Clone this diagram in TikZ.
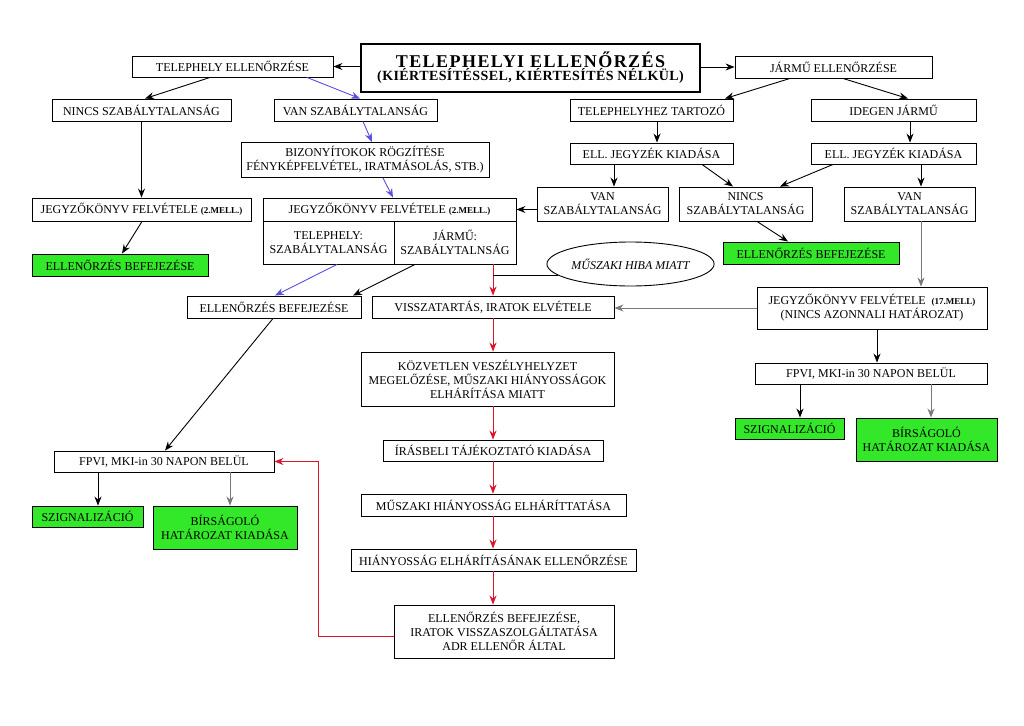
\documentclass[tikz,border=0pt]{standalone}
\usepackage{fontspec}
\setmainfont{Liberation Serif}
\usetikzlibrary{arrows.meta,calc,shapes.geometric}
\definecolor{bgreen}{RGB}{50,232,40}
\definecolor{bblue}{RGB}{90,80,225}
\definecolor{bred}{RGB}{220,20,45}
\definecolor{bgray}{RGB}{120,120,120}
\newcommand{\mell}[1]{{\fontsize{9}{10}\selectfont\bfseries #1}}
\begin{document}
\begin{tikzpicture}[x=1pt,y=-1pt,
  font=\fontsize{12}{14}\selectfont,
  box/.style={draw,line width=0.9pt,inner sep=0pt,align=center,fill=white},
  gbox/.style={box,fill=bgreen},
  arr/.style={-{Stealth[length=9pt,width=7pt,inset=3pt]},line width=0.9pt},
  blu/.style={arr,draw=bblue},
  rd/.style={arr,draw=bred},
  gr/.style={arr,draw=bgray},
  ln/.style={line width=0.9pt}]
\useasboundingbox[fill=white] (0,0) rectangle (1024,725);

% title
\node[box,line width=1.3pt,minimum width=339pt,minimum height=48pt] (title) at (530.5,68)
 {{\fontsize{18}{19}\selectfont\bfseries\addfontfeature{LetterSpace=8}TELEPHELYI ELLENŐRZÉS}\\[-1pt]
  {\fontsize{14}{15}\selectfont\bfseries\addfontfeature{LetterSpace=3}(KIÉRTESÍTÉSSEL, KIÉRTESÍTÉS NÉLKÜL)}};

% left branch
\node[box,minimum width=201pt,minimum height=21pt] (tel) at (232.5,66.5) {TELEPHELY ELLENŐRZÉSE};
\node[box,minimum width=179pt,minimum height=22pt] (nincsL) at (141.5,110) {NINCS SZABÁLYTALANSÁG};
\node[box,minimum width=163pt,minimum height=22pt] (vanL) at (355.5,110) {VAN SZABÁLYTALANSÁG};
\node[box,minimum width=248pt,minimum height=35pt] (biz) at (365,160) {BIZONYÍTOKOK RÖGZÍTÉSE\\FÉNYKÉPFELVÉTEL, IRATMÁSOLÁS, STB.)};
\node[box,minimum width=219pt,minimum height=23pt] (jkL) at (141.5,209.5) {JEGYZŐKÖNYV FELVÉTELE \mell{(2.MELL.)}};
\node[gbox,minimum width=176pt,minimum height=22pt] (befL) at (120,265) {ELLENŐRZÉS BEFEJEZÉSE};

% middle record box
\node[box,minimum width=253pt,minimum height=23pt] (jkMt) at (389.5,209.5) {JEGYZŐKÖNYV FELVÉTELE \mell{(2.MELL.)}};
\node[box,minimum width=131pt,minimum height=43pt] (jkMbl) at (328.5,242.5) {TELEPHELY:\\SZABÁLYTALANSÁG};
\node[box,minimum width=122pt,minimum height=43pt] (jkMbr) at (455,242.5) {JÁRMŰ:\\SZABÁLYTALNSÁG};

\node[box,minimum width=174pt,minimum height=22pt] (befM) at (274,307) {ELLENŐRZÉS BEFEJEZÉSE};
\node[box,minimum width=242pt,minimum height=22pt] (viss) at (493,307) {VISSZATARTÁS, IRATOK ELVÉTELE};
\node[draw,ellipse,line width=0.9pt,inner sep=0pt,minimum width=165pt,minimum height=44pt,font=\fontsize{12}{14}\selectfont\itshape] (ell) at (630.5,264) {MŰSZAKI HIBA MIATT};

% right branch
\node[box,minimum width=197pt,minimum height=22pt] (jar) at (833.5,67) {JÁRMŰ ELLENŐRZÉSE};
\node[box,minimum width=163pt,minimum height=22pt] (telh) at (651.5,110) {TELEPHELYHEZ TARTOZÓ};
\node[box,minimum width=165pt,minimum height=22pt] (ideg) at (893.5,110) {IDEGEN JÁRMŰ};
\node[box,minimum width=163pt,minimum height=21pt] (ellJ1) at (651.5,153.5) {ELL. JEGYZÉK KIADÁSA};
\node[box,minimum width=165pt,minimum height=21pt] (ellJ2) at (893.5,153.5) {ELL. JEGYZÉK KIADÁSA};
\node[box,minimum width=131pt,minimum height=34pt] (vanM) at (602.5,204) {VAN\\SZABÁLYTALANSÁG};
\node[box,minimum width=133pt,minimum height=34pt] (nincsM) at (745.5,204) {NINCS\\SZABÁLYTALANSÁG};
\node[box,minimum width=131pt,minimum height=34pt] (vanR) at (909.5,204) {VAN\\SZABÁLYTALANSÁG};
\node[gbox,minimum width=176pt,minimum height=22pt] (befR) at (811,253) {ELLENŐRZÉS BEFEJEZÉSE};
\node[box,minimum width=230pt,minimum height=42pt] (jk17) at (872,308) {JEGYZŐKÖNYV FELVÉTELE \ \mell{(17.MELL)}\\(NINCS AZONNALI HATÁROZAT)};
\node[box,minimum width=232pt,minimum height=21pt] (fpviR) at (871,373.5) {FPVI, MKI-in 30 NAPON BELÜL};
\node[gbox,minimum width=109pt,minimum height=21pt] (szigR) at (789.5,428.5) {SZIGNALIZÁCIÓ};
\node[gbox,minimum width=141pt,minimum height=43pt] (birR) at (926.5,439.5) {BÍRSÁGOLÓ\\HATÁROZAT KIADÁSA};

% bottom left
\node[box,minimum width=220pt,minimum height=21pt] (fpviL) at (164,461.5) {FPVI, MKI-in 30 NAPON BELÜL};
\node[gbox,minimum width=111pt,minimum height=21pt] (szigL) at (87.5,516.5) {SZIGNALIZÁCIÓ};
\node[gbox,minimum width=144pt,minimum height=43pt] (birL) at (225,527.5) {BÍRSÁGOLÓ\\HATÁROZAT KIADÁSA};

% middle column
\node[box,minimum width=253pt,minimum height=54pt] (kozv) at (487.5,379) {KÖZVETLEN VESZÉLYHELYZET\\MEGELŐZÉSE, MŰSZAKI HIÁNYOSSÁGOK\\ELHÁRÍTÁSA MIATT};
\node[box,minimum width=220pt,minimum height=21pt] (iras) at (493,450.5) {ÍRÁSBELI TÁJÉKOZTATÓ KIADÁSA};
\node[box,minimum width=265pt,minimum height=22pt] (musz) at (493.5,505) {MŰSZAKI HIÁNYOSSÁG ELHÁRÍTTATÁSA};
\node[box,minimum width=285pt,minimum height=22pt] (hian) at (493.5,560) {HIÁNYOSSÁG ELHÁRÍTÁSÁNAK ELLENŐRZÉSE};
\node[box,minimum width=220pt,minimum height=53pt] (vege) at (504,631.5) {ELLENŐRZÉS BEFEJEZÉSE,\\IRATOK VISSZASZOLGÁLTATÁSA\\ADR ELLENŐR ÁLTAL};

\coordinate (mj) at (493,275.5);

% connectors
\draw[arr] (title.west |- tel.east) -- (tel.east);
\draw[arr] (title.east |- jar.west) -- (jar.west);
\draw[arr] ($(tel.south)+(-22.5,0)$) -- ($(nincsL.north)+(3.5,0)$);
\draw[blu] ($(tel.south)+(74.5,0)$) -- ($(vanL.north)+(4.5,0)$);
\draw[blu] ($(vanL.south)+(7.5,0)$) -- ($(biz.north)+(7,0)$);
\draw[arr] (nincsL.south) -- (jkL.north);
\draw[arr] ($(jkL.south)+(0.5,0)$) -- ($(befL.north)+(2,0)$);
\draw[blu] ($(biz.south)+(18,0)$) -- ($(jkMt.north)+(3.5,0)$);
\draw[blu] ($(jkMbl.south)+(8.5,0)$) -- ($(befM.north)+(1,0)$);
\draw[arr] ($(jkMbr.south)+(-40,0)$) -- ($(befM.north)+(79,0)$);
\draw[rd] ($(jkMbr.south)+(38,0)$) -- (viss.north);
\draw[ln] (ell.189) -- (mj);

\draw[arr] ($(jar.south)+(-43.5,0)$) -- ($(telh.north)+(73.5,0)$);
\draw[arr] ($(jar.south)+(9.5,0)$) -- ($(ideg.north)+(14.5,0)$);
\draw[arr] ($(telh.south)+(5.5,0)$) -- ($(ellJ1.north)+(5.5,0)$);
\draw[arr] ($(ideg.south)+(16.5,0)$) -- ($(ellJ2.north)+(16.5,0)$);
\draw[arr] ($(ellJ1.south)+(-37.5,0)$) -- ($(vanM.north)+(11.5,0)$);
\draw[arr] ($(ellJ1.south)+(50.5,0)$) -- ($(nincsM.north)+(-12.5,0)$);
\draw[arr] ($(ellJ2.south)+(-60.5,0)$) -- ($(nincsM.north)+(34.5,0)$);
\draw[arr] ($(ellJ2.south)+(27.5,0)$) -- ($(vanR.north)+(11.5,0)$);
\draw[arr] (vanM.west |- jkMt.east) -- (jkMt.east);
\draw[arr] ($(nincsM.south)+(11.5,0)$) -- ($(befR.north)+(-23,0)$);
\draw[gr] ($(vanR.south)+(11.5,0)$) -- ($(jk17.north)+(49,0)$);
\draw[gr] (jk17.west) -- (jk17.west -| viss.east);
\draw[arr] ($(jk17.south)+(5,0)$) -- ($(fpviR.north)+(6,0)$);
\draw[arr] ($(fpviR.south)+(-71,0)$) -- ($(szigR.north)+(10.5,0)$);
\draw[gr] ($(fpviR.south)+(60,0)$) -- ($(birR.north)+(4.5,0)$);

\draw[arr] ($(befM.south)+(-1,0)$) -- ($(fpviL.north)+(1,0)$);
\draw[arr] ($(fpviL.south)+(-66,0)$) -- ($(szigL.north)+(10.5,0)$);
\draw[gr] ($(fpviL.south)+(66,0)$) -- ($(birL.north)+(5,0)$);

\draw[rd] (viss.south) -- ($(kozv.north)+(5.5,0)$);
\draw[rd] ($(kozv.south)+(5.5,0)$) -- (iras.north);
\draw[rd] (iras.south) -- ($(musz.north)+(-0.5,0)$);
\draw[rd] ($(musz.south)+(-0.5,0)$) -- ($(hian.north)+(-0.5,0)$);
\draw[rd] ($(hian.south)+(-0.5,0)$) -- ($(vege.north)+(-11,0)$);
\draw[rd] ($(vege.west)+(0,4.5)$) -| ($(fpviL.east)+(44,0)$) -- (fpviL.east);
\end{tikzpicture}
\end{document}
